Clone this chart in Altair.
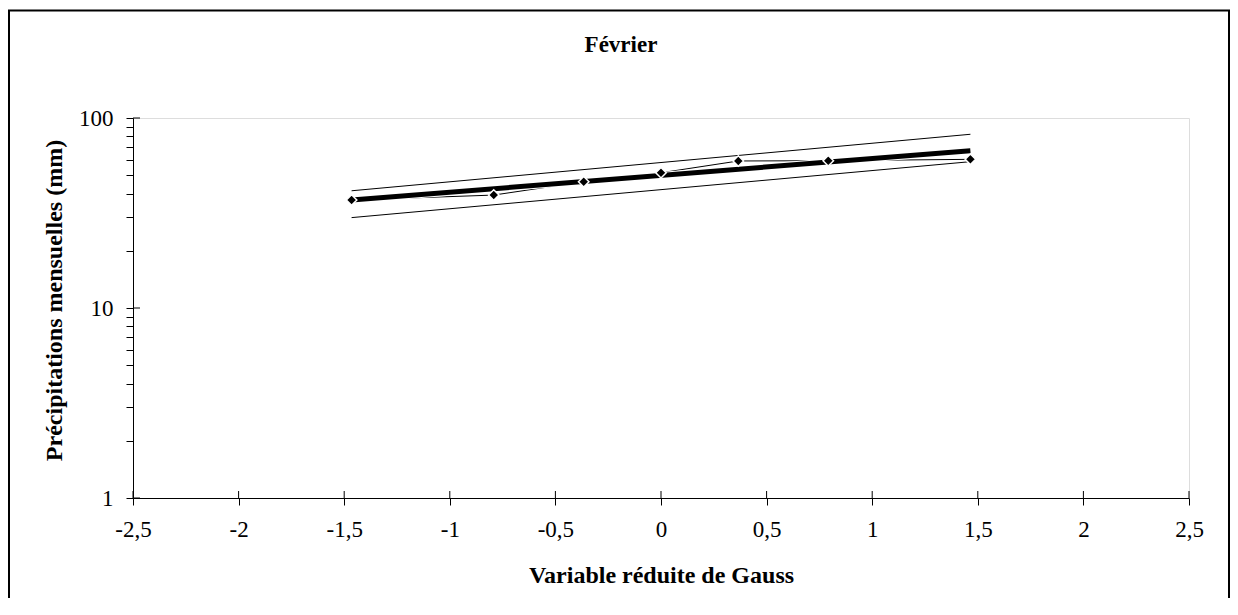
import altair as alt
import pandas as pd

# ---- data ----
gauss_x = [-1.465, -0.792, -0.366, 0.0, 0.366, 0.792, 1.465]
precip = [37.0, 39.3, 46.2, 51.5, 59.4, 59.6, 60.6]

fit_x = [-1.465, 1.465]
fit_y = [37.0, 67.3]
upper_y = [41.4, 82.1]
lower_y = [29.9, 58.9]

x_ticks = [-2.5, -2, -1.5, -1, -0.5, 0, 0.5, 1, 1.5, 2, 2.5]
y_major = [1, 10, 100]
y_ticks = [1, 2, 3, 4, 5, 6, 7, 8, 9, 10, 20, 30, 40, 50, 60, 70, 80, 90, 100]

chart_title = "Février"

FONT = "Liberation Serif"

obs = pd.DataFrame({"x": gauss_x, "y": precip})
fit = pd.DataFrame({"x": fit_x, "y": fit_y})
bounds = pd.DataFrame({
    "x": fit_x + fit_x,
    "y": upper_y + lower_y,
    "s": ["upper", "upper", "lower", "lower"],
})
xt = pd.DataFrame({"x": x_ticks})
yt = pd.DataFrame({"y": y_major})
one = pd.DataFrame({"t": [chart_title]})

x_axis = alt.Axis(
    values=x_ticks,
    labelExpr="replace(toString(datum.value), '.', ',')",
    tickSize=7, tickColor="black", tickWidth=1,
    domainColor="black", domainWidth=1,
    labelFont=FONT, labelFontSize=23, labelColor="black", labelPadding=13,
    labelFlush=False, labelOverlap=False, grid=False,
    title="Variable réduite de Gauss", titleFont=FONT, titleFontSize=24,
    titleFontWeight="bold", titleColor="black",
    titleY=84, titleBaseline="alphabetic",
)
y_axis = alt.Axis(
    values=y_ticks,
    labelExpr="(datum.value == 1 || datum.value == 10 || datum.value == 100) ? toString(datum.value) : ''",
    tickSize=7, tickColor="black", tickWidth=1,
    domainColor="black", domainWidth=1,
    labelFont=FONT, labelFontSize=23, labelColor="black", labelPadding=13,
    labelOverlap=False, grid=False,
    title="Précipitations mensuelles (mm)", titleFont=FONT, titleFontSize=24,
    titleFontWeight="bold", titleColor="black",
    titleX=-79, titleY=182, titleAngle=-90, titleAlign="center", titleBaseline="middle",
)

X = alt.X("x:Q", scale=alt.Scale(domain=[-2.5, 2.5], nice=False, zero=False), axis=x_axis)
Y = alt.Y("y:Q", scale=alt.Scale(type="log", domain=[1, 100], nice=False), axis=y_axis)

border = alt.Chart(one).mark_rect(fill=None, stroke="black", strokeWidth=2).encode(
    x=alt.value(-124), x2=alt.value(1096), y=alt.value(-107.5), y2=alt.value(520)
)
title_txt = alt.Chart(one).mark_text(
    font=FONT, fontSize=23, fontWeight="bold", color="black",
    align="center", baseline="alphabetic"
).encode(text="t:N", x=alt.value(488), y=alt.value(-66))

bound_halo = alt.Chart(bounds).mark_line(color="white", strokeWidth=3).encode(x=X, y=Y, detail="s:N")
bound_line = alt.Chart(bounds).mark_line(color="black", strokeWidth=1).encode(x=X, y=Y, detail="s:N")
obs_halo = alt.Chart(obs).mark_line(color="white", strokeWidth=3).encode(x=X, y=Y)
obs_line = alt.Chart(obs).mark_line(color="black", strokeWidth=1).encode(x=X, y=Y)
fit_halo = alt.Chart(fit).mark_line(color="white", strokeWidth=7).encode(x=X, y=Y)
fit_line = alt.Chart(fit).mark_line(color="black", strokeWidth=5).encode(x=X, y=Y)
points = alt.Chart(obs).mark_point(
    shape="diamond", filled=True, fill="black", stroke="white", strokeWidth=1.5,
    size=110, opacity=1
).encode(x=X, y=Y)

xt_in = alt.Chart(xt).mark_rule(color="black", strokeWidth=1).encode(
    x=X, y=alt.value(380), y2=alt.value(373)
)
yt_in = alt.Chart(yt).mark_rule(color="black", strokeWidth=1).encode(
    y=Y, x=alt.value(0), x2=alt.value(7)
)

chart = alt.layer(
    border, title_txt, xt_in, yt_in,
    bound_halo, bound_line, obs_halo, obs_line, fit_halo, fit_line, points,
).properties(
    width=1056, height=380,
    padding={"left": 125, "top": 110, "right": 41, "bottom": 100},
    autosize=alt.AutoSizeParams(type="none"),
).configure_view(stroke=None).configure(background="white")

chart.save("out.html", embed_options={"renderer": "svg", "actions": False})
